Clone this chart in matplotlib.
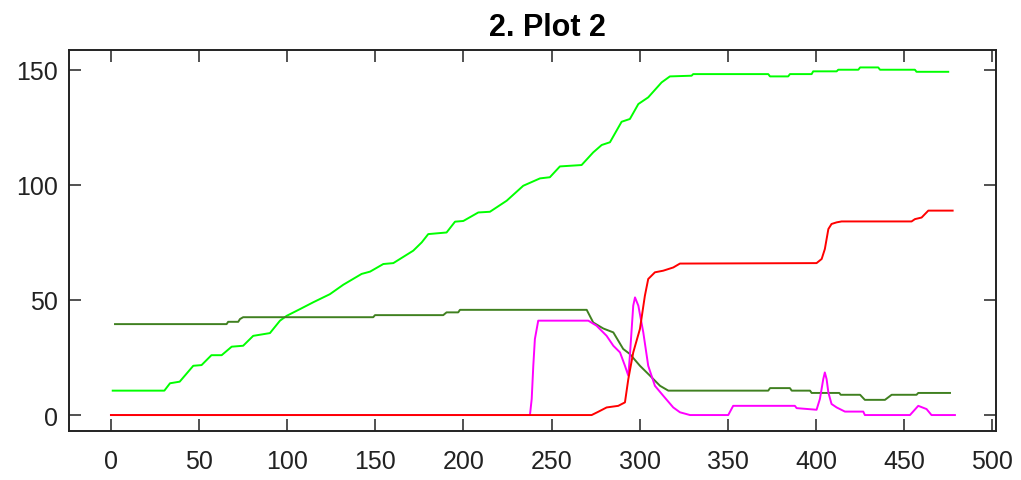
import matplotlib.pyplot as plt

# bright green series
g1_x = [1, 30.3, 33.5, 39, 46.7, 51.4, 57, 62.8, 68.5, 75, 80.7, 90.2, 95.9, 99.7,
        107.2, 114.8, 124.2, 131.8, 142.2, 147, 154.5, 160.2, 171.5, 176.3, 180,
        190.4, 195.2, 199.9, 208.4, 215, 224.5, 233.9, 243.4, 249, 254.7, 267,
        273.6, 278.4, 283.1, 289.7, 294.4, 299.2, 304.8, 312.4, 317.1, 329.4,
        330.3, 372.9, 373.9, 384.2, 385.2, 397.5, 398.4, 411.7, 412.6, 424, 425,
        435.3, 436.3, 456.1, 457, 475]
g1_y = [10.6, 10.6, 13.8, 14.5, 21.4, 21.7, 26, 26, 29.7, 30.1, 34.4, 35.6, 41, 43.1,
        46, 49, 52.5, 56.6, 61.3, 62.3, 65.6, 66, 71.4, 75, 78.6,
        79.3, 84, 84.3, 88, 88.3, 93.1, 99.6, 102.8, 103.3, 108, 108.6,
        114.1, 117.3, 118.5, 127.4, 128.6, 135.1, 138, 144.5, 147.1, 147.4,
        148.1, 148.1, 147.1, 147.1, 148.1, 148.1, 149.3, 149.3, 150, 150, 151,
        151, 150, 150, 149.1, 149.1]

# dark green series
g2_x = [2.3, 65.6, 66.5, 72.2, 73.2, 75, 148.8, 149.8, 188.5, 190.4, 197, 198,
        269.9, 273.6, 279.3, 285, 290.6, 294.4, 300.1, 305.8, 311.5, 316.2,
        372.9, 373.9, 385.2, 386.2, 396.6, 397.5, 413.2, 414, 425, 427.7,
        439.1, 442.9, 457, 458, 476]
g2_y = [39.5, 39.5, 40.5, 40.5, 41.7, 42.5, 42.5, 43.4, 43.4, 44.6, 44.6, 45.7,
        45.7, 40.2, 37.6, 35.9, 28.7, 26.5, 21.4, 17.1, 12.7, 10.6,
        10.6, 11.7, 11.7, 10.6, 10.6, 9.6, 9.6, 8.8, 8.8, 6.6,
        6.6, 8.8, 8.8, 9.6, 9.6]

# red series
r_x = [0, 272.7, 276.4, 281.2, 287.8, 291.6, 293.5, 296.3, 300.1, 302.9, 304.8,
       308.6, 313.3, 319, 322.8, 400.3, 403.2, 405, 407, 408.8, 411.7, 414.5,
       454.2, 456.1, 459.9, 463.7, 477.5]
r_y = [0, 0, 1.4, 3.3, 4.0, 5.5, 15.6, 27.2, 37.4, 51.8, 59.1,
       62, 62.7, 64.1, 65.8, 66, 67.8, 72.1, 80.8, 83, 83.7, 84.1,
       84.1, 85.1, 85.8, 88.8, 88.8]

# magenta series
m_x = [0, 237.7, 238.7, 239.6, 240.5, 242.4, 270.8, 275.5, 281.2, 285, 288.8,
       291.6, 293.5, 294.4, 296.3, 297.3, 299.2, 302, 304.8, 308.6, 313.3, 319,
       322.8, 328.5, 350.2, 353, 388, 389, 400.3, 402.2, 404.1, 405, 406, 407,
       408.8, 411.7, 416.4, 426.8, 427.7, 453.3, 458, 462.7, 465.5, 478.8]
m_y = [0, 0, 7, 21.4, 33, 41, 41, 38.8, 34.4, 30.1, 27.2,
       21.4, 17.1, 25.8, 47.5, 51.1, 47.5, 35.9, 21.4, 12.7, 8.4, 3.3,
       1.2, 0, 0, 4, 4, 3, 2.3, 7, 15.6, 18.5, 15.6, 9.8,
       4.8, 3.3, 1.5, 1.5, 0, 0, 4, 2.6, 0, 0]

x_ticks = [0, 50, 100, 150, 200, 250, 300, 350, 400, 450, 500]
y_ticks = [0, 50, 100, 150]

plt.rcParams["font.family"] = ["Liberation Sans", "DejaVu Sans"]

fig = plt.figure(figsize=(10.21, 4.81), dpi=100)
ax = fig.add_axes([69 / 1021, 1 - 431.7 / 481, (996 - 69) / 1021, (431.7 - 50.7) / 481])

ax.plot(g1_x, g1_y, color="#00ff00", linewidth=1.4)
ax.plot(g2_x, g2_y, color="#408020", linewidth=1.4)
ax.plot(m_x, m_y, color="#ff00ff", linewidth=1.4)
ax.plot(r_x, r_y, color="#ff0000", linewidth=1.4)

ax.set_xlim(-23.8, 502.1)
ax.set_ylim(-6.8, 158.7)
ax.set_xticks(x_ticks)
ax.set_yticks(y_ticks)
ax.tick_params(axis="both", direction="in", top=True, right=True,
               length=8.5, width=1.1, labelsize=18, color="#222222",
               labelcolor="#222222")
ax.tick_params(axis="x", pad=13)
ax.tick_params(axis="y", pad=8)
for sp in ax.spines.values():
    sp.set_linewidth(1.4)
    sp.set_color("#222222")

fig.text(547 / 1021, 1 - 28 / 481, "2. Plot 2", ha="center", va="center",
         fontsize=22, fontweight="bold")

fig.savefig("out.png", dpi=100)
